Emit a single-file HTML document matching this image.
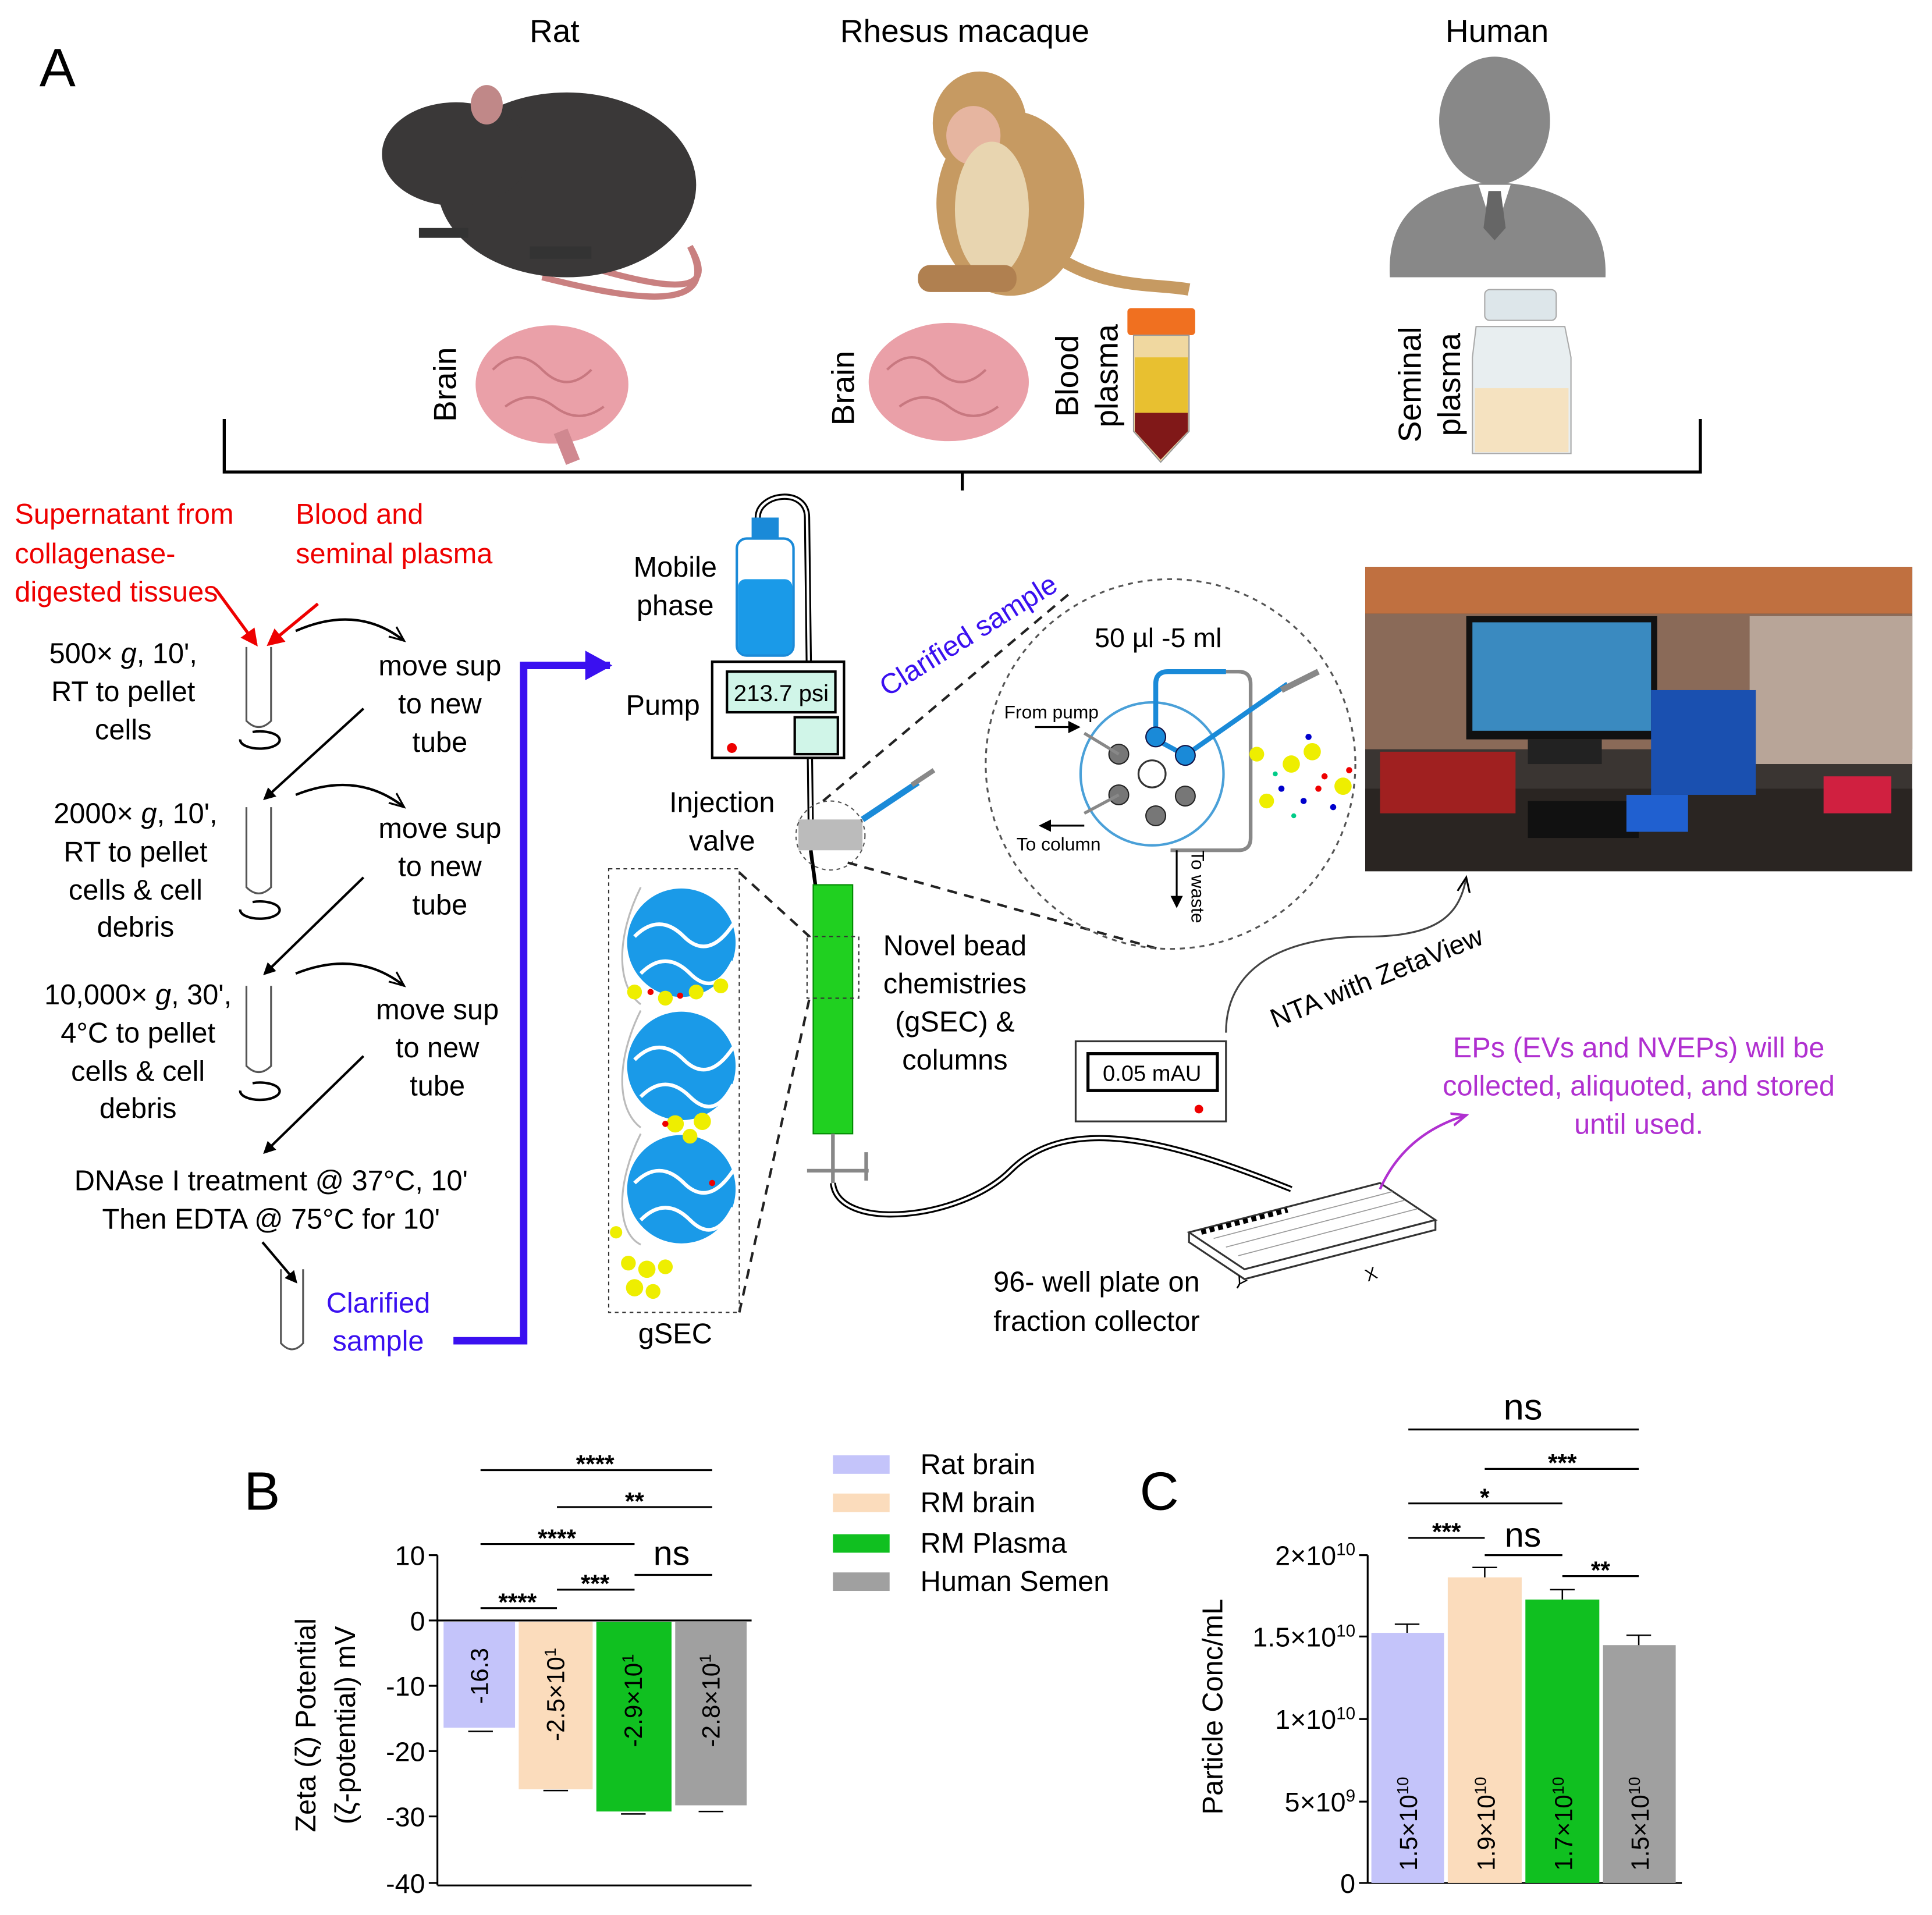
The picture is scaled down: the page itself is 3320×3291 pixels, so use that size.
<!DOCTYPE html>
<html><head><meta charset="utf-8"><style>
html,body{margin:0;padding:0;background:#fff}
svg{display:block}
text{font-family:"Liberation Sans",Arial,sans-serif}
</style></head><body>
<svg width="3320" height="3291" viewBox="0 0 1568 1554" preserveAspectRatio="none" xmlns="http://www.w3.org/2000/svg">
<defs>
<marker id="ah" markerWidth="10" markerHeight="10" refX="8" refY="5" orient="auto" markerUnits="userSpaceOnUse"><path d="M0,0 L10,5 L0,10 z" fill="#000"/></marker>
<marker id="ahr" markerWidth="14" markerHeight="14" refX="12" refY="7" orient="auto" markerUnits="userSpaceOnUse"><path d="M0,0 L14,7 L0,14 z" fill="#e00"/></marker>
<marker id="ahp" markerWidth="14" markerHeight="14" refX="12" refY="7" orient="auto" markerUnits="userSpaceOnUse"><path d="M0,2 L12,7 L0,12" fill="none" stroke="#b030d0" stroke-width="2"/></marker>
<marker id="aho" markerWidth="14" markerHeight="14" refX="12" refY="7" orient="auto" markerUnits="userSpaceOnUse"><path d="M0,2 L12,7 L0,12" fill="none" stroke="#000" stroke-width="1.5"/></marker>
<marker id="ahb" markerWidth="24" markerHeight="24" refX="20" refY="12" orient="auto" markerUnits="userSpaceOnUse"><path d="M0,0 L22,12 L0,24 z" fill="#3a10f0"/></marker>
</defs>
<rect width="1568" height="1554" fill="#fff"/>
<text x="32" y="70" font-size="44">A</text>
<text x="450" y="34" font-size="26" text-anchor="middle">Rat</text>
<text x="783" y="34" font-size="26" text-anchor="middle">Rhesus macaque</text>
<text x="1215" y="34" font-size="26" text-anchor="middle">Human</text>
<!-- rat -->
<path d="M440,205 C520,230 590,250 560,200 C590,260 500,240 440,225" fill="none" stroke="#c98080" stroke-width="5"/>
<ellipse cx="460" cy="150" rx="105" ry="75" fill="#3a3838"/>
<ellipse cx="370" cy="125" rx="60" ry="42" fill="#3a3838"/>
<path d="M315,125 L345,100 L350,150 z" fill="#3a3838"/>
<ellipse cx="395" cy="85" rx="13" ry="16" fill="#c08888"/>
<rect x="340" y="185" width="40" height="8" fill="#333"/><rect x="430" y="200" width="50" height="10" fill="#333"/>
<!-- monkey -->
<ellipse cx="820" cy="165" rx="60" ry="75" fill="#c69a62"/>
<ellipse cx="795" cy="100" rx="38" ry="42" fill="#c69a62"/>
<ellipse cx="790" cy="110" rx="22" ry="24" fill="#e6b5a0"/>
<ellipse cx="805" cy="170" rx="30" ry="55" fill="#e8d5b0"/>
<path d="M860,210 C900,235 940,230 965,235" stroke="#c69a62" stroke-width="10" fill="none"/>
<rect x="745" y="215" width="80" height="22" rx="10" fill="#b08050"/>
<!-- human -->
<ellipse cx="1213" cy="98" rx="45" ry="52" fill="#888"/>
<path d="M1128,225 C1125,170 1160,150 1213,148 C1265,150 1305,170 1303,225 z" fill="#888"/>
<path d="M1200,150 L1226,150 L1213,190 z" fill="#fff"/>
<path d="M1208,155 L1218,155 L1222,185 L1213,195 L1204,185 z" fill="#666"/>
<!-- brains -->
<ellipse cx="448" cy="312" rx="62" ry="48" fill="#eaa0a8"/><path d="M455,350 L465,375" stroke="#d08890" stroke-width="12"/>
<ellipse cx="770" cy="310" rx="65" ry="48" fill="#eaa0a8"/>
<g fill="none" stroke="#c87880" stroke-width="2"><path d="M400,300 q20,-20 40,0 t40,0 M410,330 q20,-15 40,0 t40,0"/><path d="M720,300 q20,-20 40,0 t40,0 M730,330 q20,-15 40,0 t40,0"/></g>
<text transform="translate(370,312) rotate(-90)" font-size="26" text-anchor="middle">Brain</text>
<text transform="translate(693,315) rotate(-90)" font-size="26" text-anchor="middle">Brain</text>
<text transform="translate(875,305) rotate(-90)" font-size="26" text-anchor="middle">Blood</text>
<text transform="translate(907,305) rotate(-90)" font-size="26" text-anchor="middle">plasma</text>
<text transform="translate(1153,312) rotate(-90)" font-size="26" text-anchor="middle">Seminal</text>
<text transform="translate(1185,312) rotate(-90)" font-size="26" text-anchor="middle">plasma</text>
<!-- blood tube -->
<rect x="915" y="250" width="55" height="22" rx="3" fill="#f07020"/>
<path d="M920,272 L965,272 L965,350 L942,375 L920,350 z" fill="#f0d8a0" stroke="#999"/>
<rect x="921" y="290" width="43" height="45" fill="#e8c030"/>
<path d="M921,335 L964,335 L964,350 L942,373 L921,350 z" fill="#801818"/>
<!-- seminal bottle -->
<rect x="1205" y="235" width="58" height="25" rx="4" fill="#dde6ea" stroke="#aaa"/>
<path d="M1198,265 L1270,265 L1275,290 L1275,368 L1195,368 L1195,290 z" fill="#e8eef0" stroke="#aaa"/>
<rect x="1197" y="315" width="76" height="52" fill="#f5e2c0"/>
<!-- bracket -->
<path d="M182,340 L182,383 L1380,383 L1380,340 M781,383 L781,398" fill="none" stroke="#000" stroke-width="2.5"/>
<!-- red text -->
<g fill="#e00" font-size="23"><text x="12" y="425">Supernatant from</text><text x="12" y="457">collagenase-</text><text x="12" y="488">digested tissues</text>
<text x="240" y="425">Blood and</text><text x="240" y="457">seminal plasma</text></g>
<line x1="175" y1="478" x2="208" y2="523" stroke="#e00" stroke-width="2.5" marker-end="url(#ahr)"/>
<line x1="258" y1="490" x2="218" y2="523" stroke="#e00" stroke-width="2.5" marker-end="url(#ahr)"/>
<!-- protocol -->
<g font-size="23" text-anchor="middle">
<text x="100" y="538">500× <tspan font-style="italic">g</tspan>, 10',</text><text x="100" y="569">RT to pellet</text><text x="100" y="600">cells</text>
<text x="110" y="668">2000× <tspan font-style="italic">g</tspan>, 10',</text><text x="110" y="699">RT to pellet</text><text x="110" y="730">cells &amp; cell</text><text x="110" y="760">debris</text>
<text x="112" y="815">10,000× <tspan font-style="italic">g</tspan>, 30',</text><text x="112" y="846">4°C to pellet</text><text x="112" y="877">cells &amp; cell</text><text x="112" y="907">debris</text>
<text x="357" y="548">move sup</text><text x="357" y="579">to new</text><text x="357" y="610">tube</text>
<text x="357" y="680">move sup</text><text x="357" y="711">to new</text><text x="357" y="742">tube</text>
<text x="355" y="827">move sup</text><text x="355" y="858">to new</text><text x="355" y="889">tube</text>
<text x="220" y="966">DNAse I treatment @ 37°C, 10'</text><text x="220" y="997">Then EDTA @ 75°C for 10'</text>
</g>
<g fill="none" stroke="#555" stroke-width="1.5">
<path d="M200,525 L200,585 Q210,595 220,585 L220,525"/>
<path d="M200,655 L200,720 Q210,730 220,720 L220,655"/>
<path d="M200,800 L200,865 Q210,875 220,865 L220,800"/>
<path d="M228,1030 L228,1090 Q237,1100 246,1090 L246,1030"/>
</g>
<g fill="none" stroke="#000" stroke-width="2">
<path d="M195,600 a16,7 0 1,0 10,-6"/><path d="M195,738 a16,7 0 1,0 10,-6"/><path d="M195,885 a16,7 0 1,0 10,-6"/>
<path d="M240,512 Q290,490 328,520" marker-end="url(#aho)"/>
<path d="M240,645 Q290,625 328,655" marker-end="url(#aho)"/>
<path d="M240,790 Q290,770 328,800" marker-end="url(#aho)"/>
<line x1="295" y1="575" x2="215" y2="648" marker-end="url(#ah)"/>
<line x1="295" y1="712" x2="215" y2="790" marker-end="url(#ah)"/>
<line x1="295" y1="857" x2="215" y2="935" marker-end="url(#ah)"/>
<line x1="213" y1="1008" x2="240" y2="1040" marker-end="url(#ah)"/>
</g>
<g fill="#3a10f0" font-size="23" text-anchor="middle"><text x="307" y="1065">Clarified</text><text x="307" y="1096">sample</text></g>
<path d="M368,1088 L425,1088 L425,540 L495,540" fill="none" stroke="#3a10f0" stroke-width="6" marker-end="url(#ahb)"/>
<!-- HPLC -->
<path d="M615,420 C615,400 655,395 655,420 L658,670" fill="none" stroke="#000" stroke-width="5"/>
<path d="M615,420 C615,400 655,395 655,420 L658,670" fill="none" stroke="#fff" stroke-width="2"/>
<rect x="610" y="420" width="22" height="18" fill="#1a8ad8"/>
<rect x="598" y="437" width="46" height="95" rx="8" fill="#fff" stroke="#1a8ad8" stroke-width="2"/>
<rect x="599" y="470" width="44" height="61" rx="6" fill="#1a9ae8"/>
<g font-size="23" text-anchor="middle"><text x="548" y="468">Mobile</text><text x="548" y="499">phase</text><text x="538" y="580">Pump</text><text x="586" y="659">Injection</text><text x="586" y="690">valve</text></g>
<rect x="578" y="537" width="107" height="78" fill="#fff" stroke="#000" stroke-width="2"/>
<rect x="590" y="545" width="88" height="33" fill="#d0f5e8" stroke="#000" stroke-width="2"/>
<text x="634" y="569" font-size="19" text-anchor="middle">213.7 psi</text>
<rect x="645" y="582" width="35" height="30" fill="#d0f5e8" stroke="#000" stroke-width="2"/>
<circle cx="594" cy="607" r="4" fill="#e00"/>
<path d="M658,690 L662,720" stroke="#000" stroke-width="3"/>
<rect x="648" y="665" width="52" height="25" fill="#bbb"/>
<line x1="700" y1="665" x2="745" y2="635" stroke="#1a8ad8" stroke-width="5"/><line x1="740" y1="637" x2="758" y2="625" stroke="#888" stroke-width="4"/>
<circle cx="674" cy="678" r="28" fill="none" stroke="#555" stroke-dasharray="3,3"/>
<text transform="translate(790,522) rotate(-32)" font-size="23" fill="#3a10f0" text-anchor="middle">Clarified sample</text>
<g stroke="#222" stroke-width="2" stroke-dasharray="8,6" fill="none">
<line x1="668" y1="650" x2="870" y2="480"/><line x1="688" y1="700" x2="940" y2="770"/>
<line x1="600" y1="708" x2="657" y2="760"/><line x1="600" y1="1065" x2="657" y2="810"/>
</g>
<circle cx="950" cy="620" r="150" fill="none" stroke="#555" stroke-width="1.5" stroke-dasharray="4,4"/>
<text x="940" y="525" font-size="22" text-anchor="middle">50 µl -5 ml</text>
<circle cx="935" cy="628" r="58" fill="none" stroke="#4aa0d8" stroke-width="2"/>
<circle cx="935" cy="628" r="11" fill="#fff" stroke="#333" stroke-width="1.5"/>
<path d="M938,600 L938,555 Q938,545 948,545 L1005,545 Q1015,545 1015,555 L1015,680 Q1015,690 1005,690 L950,690" fill="none" stroke="#888" stroke-width="3"/>
<path d="M938,600 L938,555 Q938,545 948,545 L995,545" fill="none" stroke="#1a8ad8" stroke-width="4"/>
<path d="M938,600 L962,613 L1045,555" fill="none" stroke="#1a8ad8" stroke-width="4"/>
<line x1="1040" y1="560" x2="1070" y2="545" stroke="#888" stroke-width="5"/>
<circle cx="938" cy="598" r="8" fill="#1a8ad8" stroke="#114"/><circle cx="962" cy="613" r="8" fill="#1a8ad8" stroke="#114"/>
<circle cx="908" cy="612" r="8" fill="#777" stroke="#222"/><circle cx="908" cy="645" r="8" fill="#777" stroke="#222"/>
<circle cx="938" cy="662" r="8" fill="#777" stroke="#222"/><circle cx="962" cy="646" r="8" fill="#777" stroke="#222"/>
<path d="M880,595 L908,612 M880,660 L908,645" stroke="#888" stroke-width="2.5"/>
<text x="815" y="583" font-size="15">From pump</text><line x1="840" y1="590" x2="875" y2="590" stroke="#000" stroke-width="1.5" marker-end="url(#ah)"/>
<text x="825" y="690" font-size="15">To column</text><line x1="880" y1="670" x2="845" y2="670" stroke="#000" stroke-width="1.5" marker-end="url(#ah)"/>
<line x1="955" y1="690" x2="955" y2="735" stroke="#000" stroke-width="1.5" marker-end="url(#ah)"/>
<text transform="translate(967,690) rotate(90)" font-size="15">To waste</text>
<g><circle cx="1020" cy="612" r="6" fill="#ee0"/><circle cx="1048" cy="620" r="7" fill="#ee0"/><circle cx="1065" cy="610" r="7" fill="#ee0"/><circle cx="1090" cy="638" r="7" fill="#ee0"/><circle cx="1028" cy="650" r="6" fill="#ee0"/>
<circle cx="1040" cy="640" r="2.5" fill="#00c"/><circle cx="1058" cy="650" r="2.5" fill="#00c"/><circle cx="1075" cy="630" r="2.5" fill="#e00"/><circle cx="1082" cy="655" r="2.5" fill="#00c"/><circle cx="1062" cy="598" r="2.5" fill="#00c"/><circle cx="1095" cy="625" r="2.5" fill="#e00"/><circle cx="1035" cy="628" r="2" fill="#0c8"/><circle cx="1050" cy="662" r="2" fill="#0c8"/><circle cx="1070" cy="640" r="2.5" fill="#e00"/></g>
<!-- column -->
<rect x="660" y="718" width="32" height="202" fill="#20d020" stroke="#080" stroke-width="1"/>
<rect x="655" y="760" width="42" height="50" fill="none" stroke="#333" stroke-dasharray="3,3"/>
<g font-size="23" text-anchor="middle"><text x="775" y="775">Novel bead</text><text x="775" y="806">chemistries</text><text x="775" y="837">(gSEC) &amp;</text><text x="775" y="868">columns</text></g>
<path d="M676,920 L676,960 M655,950 L705,950 M703,935 L703,958" stroke="#888" stroke-width="3" fill="none"/>
<path d="M676,960 C680,1000 780,990 820,950 C870,900 960,930 1048,965" fill="none" stroke="#000" stroke-width="5"/>
<path d="M676,960 C680,1000 780,990 820,950 C870,900 960,930 1048,965" fill="none" stroke="#fff" stroke-width="2"/>
<!-- gSEC -->
<rect x="494" y="705" width="106" height="360" fill="none" stroke="#333" stroke-dasharray="3,3"/>
<g fill="none" stroke="#bbb" stroke-width="1.5"><path d="M520,720 C500,760 500,800 520,815 M520,820 C500,860 500,900 520,915 M520,920 C500,960 500,1000 520,1010"/></g>
<g fill="#1a9ae8"><circle cx="553" cy="765" r="44"/><circle cx="553" cy="865" r="44"/><circle cx="553" cy="965" r="44"/></g>
<g fill="none" stroke="#fff" stroke-width="3"><path d="M515,760 q20,-20 40,0 t40,-10 M520,790 q20,-20 40,0 t35,-10 M515,860 q20,-20 40,0 t40,-10 M520,890 q20,-20 40,0 t35,-10 M515,960 q20,-20 40,0 t40,-10 M520,990 q20,-20 40,0 t35,-10"/></g>
<g fill="#ee0"><circle cx="515" cy="805" r="6"/><circle cx="540" cy="810" r="6"/><circle cx="565" cy="805" r="6"/><circle cx="585" cy="800" r="6"/><circle cx="548" cy="912" r="7"/><circle cx="570" cy="910" r="7"/><circle cx="560" cy="922" r="6"/><circle cx="500" cy="1000" r="5"/><circle cx="510" cy="1025" r="6"/><circle cx="525" cy="1030" r="7"/><circle cx="540" cy="1028" r="6"/><circle cx="515" cy="1045" r="7"/><circle cx="530" cy="1048" r="6"/></g>
<g fill="#e00"><circle cx="528" cy="805" r="2.5"/><circle cx="552" cy="808" r="2.5"/><circle cx="540" cy="912" r="2.5"/><circle cx="578" cy="960" r="2.5"/></g>
<text x="548" y="1090" font-size="23" text-anchor="middle">gSEC</text>
<!-- detector -->
<rect x="873" y="845" width="122" height="65" fill="#fff" stroke="#333" stroke-width="1.5"/>
<rect x="883" y="855" width="105" height="30" fill="#fff" stroke="#000" stroke-width="2.5"/>
<text x="935" y="877" font-size="18" text-anchor="middle">0.05 mAU</text>
<circle cx="973" cy="900" r="3.5" fill="#e00"/>
<path d="M995,838 C995,780 1050,760 1110,760 C1170,760 1185,740 1190,712" fill="none" stroke="#444" stroke-width="1.5" marker-end="url(#aho)"/>
<text transform="translate(1120,800) rotate(-22)" font-size="22" text-anchor="middle">NTA with ZetaView</text>
<!-- photo -->
<rect x="1108" y="460" width="444" height="247" fill="#3a3532"/>
<rect x="1108" y="460" width="444" height="38" fill="#c07040"/>
<rect x="1108" y="498" width="444" height="110" fill="#8a6a58"/>
<rect x="1420" y="500" width="132" height="120" fill="#b8a598"/>
<rect x="1190" y="500" width="155" height="100" fill="#111"/><rect x="1195" y="505" width="145" height="88" fill="#3a8ac0"/>
<rect x="1240" y="600" width="60" height="20" fill="#222"/>
<rect x="1108" y="640" width="444" height="67" fill="#2a2522"/>
<rect x="1120" y="610" width="110" height="50" fill="#a02020"/>
<rect x="1240" y="650" width="90" height="30" fill="#111"/>
<rect x="1340" y="560" width="85" height="85" fill="#1a50b0"/>
<rect x="1320" y="645" width="50" height="30" fill="#2060d0"/>
<rect x="1480" y="630" width="55" height="30" fill="#d02040"/>
<!-- plate -->
<path d="M965,1000 L1120,960 L1165,990 L1010,1030 z" fill="#fff" stroke="#333" stroke-width="1.5"/>
<path d="M965,1000 L965,1008 L1010,1038 L1165,998 L1165,990" fill="none" stroke="#333" stroke-width="1.5"/>
<line x1="975" y1="1000" x2="1045" y2="982" stroke="#000" stroke-width="4" stroke-dasharray="4,3"/>
<g stroke="#999" stroke-width="0.8"><line x1="985" y1="1005" x2="1130" y2="967"/><line x1="995" y1="1012" x2="1140" y2="974"/><line x1="1005" y1="1019" x2="1150" y2="981"/></g>
<text transform="translate(1000,1043) rotate(30)" font-size="14">Y</text><text transform="translate(1110,1040) rotate(-20)" font-size="14">X</text>
<g font-size="23" text-anchor="middle"><text x="890" y="1048">96- well plate on</text><text x="890" y="1080">fraction collector</text></g>
<g fill="#b030d0" font-size="23" text-anchor="middle"><text x="1330" y="858">EPs (EVs and NVEPs) will be</text><text x="1330" y="889">collected, aliquoted, and stored</text><text x="1330" y="920">until used.</text></g>
<path d="M1120,965 Q1140,920 1190,905" fill="none" stroke="#b030d0" stroke-width="2" marker-end="url(#ahp)"/>
<!-- panel B -->
<text x="198" y="1225" font-size="44">B</text>
<g stroke="#000" stroke-width="1.5" fill="none">
<line x1="355" y1="1262" x2="355" y2="1530"/><line x1="355" y1="1315" x2="610" y2="1315"/><line x1="355" y1="1530" x2="610" y2="1530"/>
<line x1="348" y1="1262" x2="355" y2="1262"/><line x1="348" y1="1315" x2="355" y2="1315"/><line x1="348" y1="1368" x2="355" y2="1368"/><line x1="348" y1="1421" x2="355" y2="1421"/><line x1="348" y1="1474" x2="355" y2="1474"/><line x1="348" y1="1528" x2="355" y2="1528"/>
</g>
<g font-size="22" text-anchor="end"><text x="345" y="1270">10</text><text x="345" y="1323">0</text><text x="345" y="1376">-10</text><text x="345" y="1429">-20</text><text x="345" y="1482">-30</text><text x="345" y="1536">-40</text></g>
<rect x="360" y="1316" width="58" height="86" fill="#c4c4fa"/>
<rect x="421" y="1316" width="60" height="136" fill="#fbdcbc"/>
<rect x="484" y="1316" width="61" height="154" fill="#10c020"/>
<rect x="548" y="1316" width="58" height="149" fill="#a0a0a0"/>
<g stroke="#000" stroke-width="1.2"><line x1="380" y1="1405" x2="400" y2="1405"/><line x1="441" y1="1453" x2="461" y2="1453"/><line x1="504" y1="1472" x2="524" y2="1472"/><line x1="567" y1="1470" x2="587" y2="1470"/></g>
<g font-size="20" text-anchor="middle">
<text transform="translate(396,1360) rotate(-90)">-16.3</text>
<text transform="translate(458,1375) rotate(-90)">-2.5×10<tspan dy="-7" font-size="13">1</tspan></text>
<text transform="translate(521,1380) rotate(-90)">-2.9×10<tspan dy="-7" font-size="13">1</tspan></text>
<text transform="translate(584,1380) rotate(-90)">-2.8×10<tspan dy="-7" font-size="13">1</tspan></text>
</g>
<g stroke="#000" stroke-width="1.5"><line x1="390" y1="1305" x2="452" y2="1305"/><line x1="452" y1="1290" x2="515" y2="1290"/><line x1="515" y1="1278" x2="578" y2="1278"/><line x1="390" y1="1253" x2="515" y2="1253"/><line x1="452" y1="1223" x2="578" y2="1223"/><line x1="390" y1="1193" x2="578" y2="1193"/></g>
<g font-size="20" text-anchor="middle" font-weight="bold"><text x="420" y="1307">****</text><text x="483" y="1292">***</text><text x="452" y="1255">****</text><text x="515" y="1225">**</text><text x="483" y="1195">****</text></g>
<text x="545" y="1270" font-size="28" text-anchor="middle">ns</text>
<text transform="translate(256,1400) rotate(-90)" font-size="23" text-anchor="middle">Zeta (ζ) Potential</text>
<text transform="translate(288,1400) rotate(-90)" font-size="23" text-anchor="middle">(ζ-potential) mV</text>
<!-- legend -->
<rect x="676" y="1181" width="46" height="15" fill="#c4c4fa"/><rect x="676" y="1212" width="46" height="15" fill="#fbdcbc"/><rect x="676" y="1245" width="46" height="15" fill="#10c020"/><rect x="676" y="1276" width="46" height="15" fill="#a0a0a0"/>
<g font-size="23"><text x="747" y="1196">Rat brain</text><text x="747" y="1227">RM brain</text><text x="747" y="1260">RM Plasma</text><text x="747" y="1291">Human Semen</text></g>
<!-- panel C -->
<text x="925" y="1225" font-size="44">C</text>
<g stroke="#000" stroke-width="1.5" fill="none">
<line x1="1110" y1="1262" x2="1110" y2="1528"/><line x1="1110" y1="1528" x2="1365" y2="1528"/>
<line x1="1103" y1="1262" x2="1110" y2="1262"/><line x1="1103" y1="1328" x2="1110" y2="1328"/><line x1="1103" y1="1395" x2="1110" y2="1395"/><line x1="1103" y1="1462" x2="1110" y2="1462"/><line x1="1103" y1="1528" x2="1110" y2="1528"/>
</g>
<g font-size="22" text-anchor="end">
<text x="1100" y="1270">2×10<tspan dy="-8" font-size="14">10</tspan></text>
<text x="1100" y="1336">1.5×10<tspan dy="-8" font-size="14">10</tspan></text>
<text x="1100" y="1403">1×10<tspan dy="-8" font-size="14">10</tspan></text>
<text x="1100" y="1470">5×10<tspan dy="-8" font-size="14">9</tspan></text>
<text x="1100" y="1536">0</text></g>
<rect x="1113" y="1325" width="59" height="203" fill="#c4c4fa"/>
<rect x="1175" y="1280" width="60" height="248" fill="#fbdcbc"/>
<rect x="1238" y="1298" width="60" height="230" fill="#10c020"/>
<rect x="1301" y="1335" width="59" height="193" fill="#a0a0a0"/>
<g stroke="#000" stroke-width="1.2" fill="none"><path d="M1142,1325 V1318 M1132,1318 H1152 M1205,1280 V1272 M1195,1272 H1215 M1268,1298 V1290 M1258,1290 H1278 M1330,1335 V1327 M1320,1327 H1340"/></g>
<g font-size="20" text-anchor="middle">
<text transform="translate(1150,1480) rotate(-90)">1.5×10<tspan dy="-7" font-size="13">10</tspan></text>
<text transform="translate(1213,1480) rotate(-90)">1.9×10<tspan dy="-7" font-size="13">10</tspan></text>
<text transform="translate(1276,1480) rotate(-90)">1.7×10<tspan dy="-7" font-size="13">10</tspan></text>
<text transform="translate(1338,1480) rotate(-90)">1.5×10<tspan dy="-7" font-size="13">10</tspan></text>
</g>
<g stroke="#000" stroke-width="1.5"><line x1="1143" y1="1248" x2="1205" y2="1248"/><line x1="1205" y1="1262" x2="1268" y2="1262"/><line x1="1143" y1="1220" x2="1268" y2="1220"/><line x1="1268" y1="1279" x2="1330" y2="1279"/><line x1="1205" y1="1192" x2="1330" y2="1192"/><line x1="1143" y1="1160" x2="1330" y2="1160"/></g>
<g font-size="20" text-anchor="middle" font-weight="bold"><text x="1174" y="1250">***</text><text x="1205" y="1222">*</text><text x="1299" y="1281">**</text><text x="1268" y="1194">***</text></g>
<text x="1236" y="1255" font-size="28" text-anchor="middle">ns</text>
<text x="1236" y="1152" font-size="30" text-anchor="middle">ns</text>
<text transform="translate(992,1385) rotate(-90)" font-size="23" text-anchor="middle">Particle Conc/mL</text>
</svg>
</body></html>
